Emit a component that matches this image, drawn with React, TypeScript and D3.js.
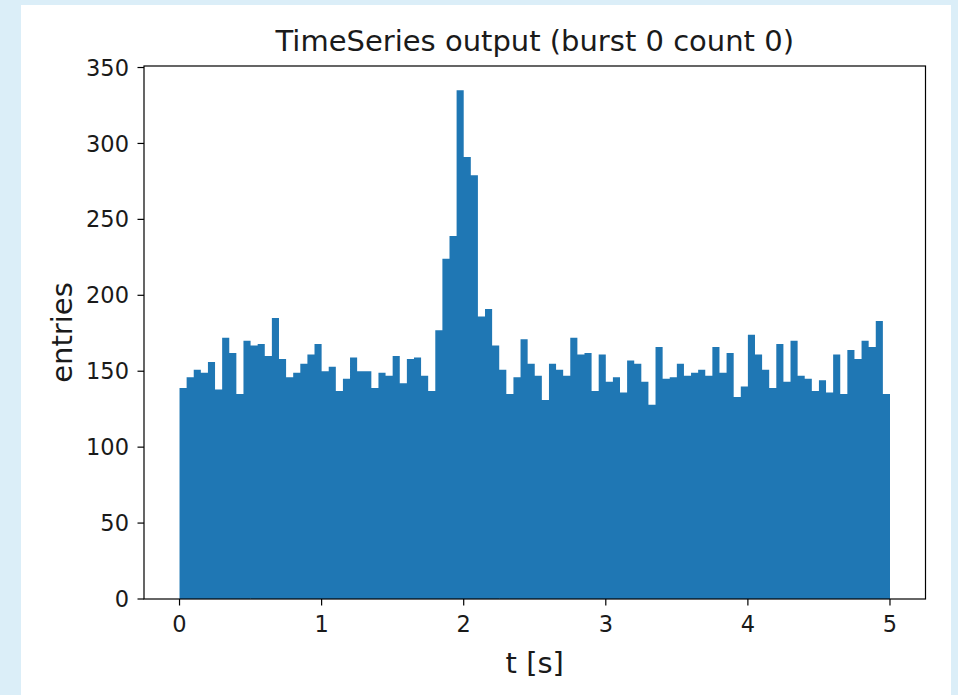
import React from 'react';
import * as d3 from 'd3';

// histogram of the time series: 100 bins over 0..5 s
const binStart = 0;
const binEnd = 5;
const counts = [
  139, 146, 151, 149, 156, 138, 172, 162, 135, 170,
  167, 168, 160, 185, 158, 146, 149, 155, 161, 168,
  150, 153, 137, 145, 159, 150, 150, 139, 149, 147,
  160, 142, 158, 159, 147, 137, 177, 224, 239, 335,
  291, 279, 186, 191, 167, 151, 135, 146, 171, 155,
  147, 131, 155, 151, 147, 172, 161, 162, 137, 161,
  143, 146, 136, 157, 155, 143, 128, 166, 145, 146,
  155, 147, 149, 151, 147, 166, 149, 162, 133, 140,
  174, 161, 151, 139, 168, 143, 170, 147, 145, 137,
  144, 136, 161, 135, 164, 158, 170, 166, 183, 135,
];
const xTicks = [0, 1, 2, 3, 4, 5];
const yTicks = [0, 50, 100, 150, 200, 250, 300, 350];
const title = 'TimeSeries output (burst 0 count 0)';

const W = 958;
const H = 695;
const left = 144;
const right = 925.5;
const top = 66;
const bottom = 599;
const font = 'DejaVu Sans, sans-serif';

export default function App() {
  const binW = (binEnd - binStart) / counts.length;
  const pad = (binEnd - binStart) * 0.05;
  const x = d3.scaleLinear().domain([binStart - pad, binEnd + pad]).range([left, right]);
  const y = d3.scaleLinear().domain([0, 351]).range([bottom, top]);

  // all bars in one path so neighbouring bars don't leave seams
  const bars = d3.path();
  counts.forEach((c, i) => {
    const x0 = x(binStart + i * binW);
    const x1 = x(binStart + (i + 1) * binW);
    bars.rect(x0, y(c), x1 - x0, y(0) - y(c));
  });

  return (
    <svg width={W} height={H} style={{ position: 'absolute', left: 0, top: 0 }}>
      <rect width={W} height={H} fill="#dbeef8" />
      <rect x={21} y={5} width={930} height={H - 5} fill="#ffffff" />

      <path d={bars.toString()} fill="#1f77b4" />

      <rect x={left} y={top} width={right - left} height={bottom - top} fill="none" stroke="#000" strokeWidth={1.2} />

      {yTicks.map((t) => (
        <g key={t} transform={`translate(0,${y(t)})`}>
          <line x1={left - 6.5} x2={left} stroke="#000" strokeWidth={1.2} />
          <text x={left - 15} dy="0.36em" textAnchor="end" fontFamily={font} fontSize={22.5} fill="#1a1a1a">{t}</text>
        </g>
      ))}
      {xTicks.map((t) => (
        <g key={t} transform={`translate(${x(t)},0)`}>
          <line y1={bottom} y2={bottom + 6.5} stroke="#000" strokeWidth={1.2} />
          <text y={632} textAnchor="middle" fontFamily={font} fontSize={22.5} fill="#1a1a1a">{t}</text>
        </g>
      ))}

      <text x={(left + right) / 2} y={51} textAnchor="middle" fontFamily={font} fontSize={29} fill="#1a1a1a">{title}</text>
      <text x={(left + right) / 2} y={673} textAnchor="middle" fontFamily={font} fontSize={29} fill="#1a1a1a">t [s]</text>
      <text transform={`translate(72,${(top + bottom) / 2}) rotate(-90)`} textAnchor="middle" fontFamily={font} fontSize={29} fill="#1a1a1a">entries</text>
    </svg>
  );
}
